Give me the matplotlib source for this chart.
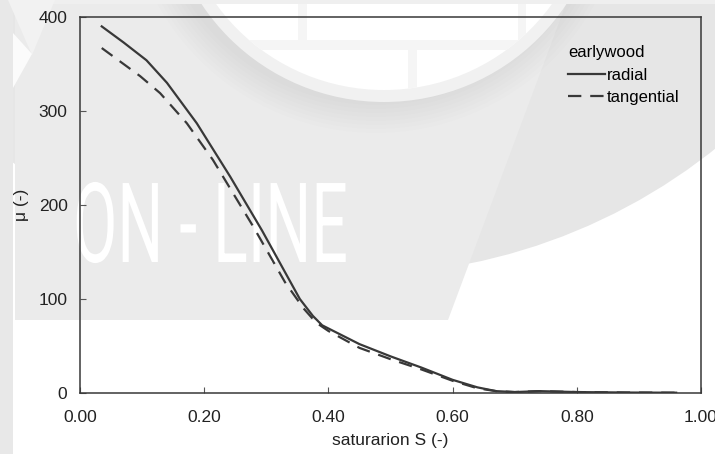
import matplotlib
matplotlib.use("Agg")
import matplotlib.pyplot as plt
from matplotlib.patches import Circle, Polygon, Rectangle
from matplotlib.patheffects import AbstractPathEffect
from matplotlib.transforms import Affine2D

# data
s_radial = [0.035, 0.07, 0.107, 0.14, 0.188, 0.242, 0.293, 0.354, 0.375, 0.39,
            0.42, 0.45, 0.5, 0.55, 0.6, 0.64, 0.67, 0.7, 0.74, 0.8, 0.88, 0.96]
mu_radial = [390, 373, 354, 330, 287, 230, 173, 100, 82, 72,
             62, 52, 39, 27, 14, 6, 2, 1, 2, 1, 0.5, 0.3]

s_tangential = [0.035, 0.097, 0.129, 0.172, 0.214, 0.279, 0.33, 0.36, 0.38, 0.4,
                0.45, 0.5, 0.55, 0.6, 0.64, 0.67, 0.7, 0.74, 0.8, 0.88, 0.96]
mu_tangential = [367, 337, 319, 287, 248, 177, 118, 90, 75, 66,
                 48, 36, 25, 13, 5, 2, 1, 2, 1, 0.5, 0.3]

x_ticks = [0.0, 0.2, 0.4, 0.6, 0.8, 1.0]
y_ticks = [0, 100, 200, 300, 400]

plt.rcParams['font.family'] = ['Liberation Sans', 'DejaVu Sans']

W, H = 715, 454
fig = plt.figure(figsize=(W / 100, H / 100), dpi=100, facecolor='white')


class Squeeze(AbstractPathEffect):
    """narrow the glyphs of a text horizontally around its anchor"""
    def __init__(self, text, sx):
        super().__init__()
        self.text = text
        self.sx = sx

    def draw_path(self, renderer, gc, tpath, affine, rgbFace=None):
        x0, _ = self.text.get_transform().transform(self.text.get_position())
        squash = affine + Affine2D().translate(-x0, 0).scale(self.sx, 1).translate(x0, 0)
        renderer.draw_path(gc, tpath, squash, rgbFace)


# watermark in the background, in pixel coordinates
bg = fig.add_axes([0, 0, 1, 1], zorder=0)
bg.set_xlim(0, W)
bg.set_ylim(H, 0)
bg.axis('off')

bg.add_patch(Circle((355, -302), 577, fc='#e6e6e6', ec='none'))
bg.add_patch(Polygon([(15, 4), (566, 4), (448, 320), (15, 320)], fc='#ebebeb', ec='none'))
for r in range(222, 254, 4):
    bg.add_patch(Circle((376, -117), r, fc='black', ec='none', alpha=0.007))
bg.add_patch(Circle((384, -117), 219, fc='#f1f1f1', ec='none'))
disc = Circle((384, -117), 207, fc='white', ec='none')
bg.add_patch(disc)
for x, y, w, h in [(0, 40, W, 10), (298, 0, 9, 40), (518, 0, 8, 40), (408, 50, 9, 60)]:
    brick = Rectangle((x, y), w, h, fc='#f5f5f5', ec='none')
    bg.add_patch(brick)
    brick.set_clip_path(disc)
bg.add_patch(Rectangle((0, 0), W, 4, fc='#efefef', ec='none'))
bg.add_patch(Rectangle((0, 0), 13, H, fc='#e8e8e8', ec='none'))
bg.add_patch(Polygon([(8, 0), (55, 0), (32, 55)], fc='#f2f2f2', ec='none'))
bg.add_patch(Polygon([(13, 33), (32, 54), (13, 88)], fc='#fbfbfb', ec='none'))

wm = bg.text(73, 262, 'ON - LINE', color='white', fontsize=80,
             family=['Roboto', 'DejaVu Sans'], fontweight='normal',
             ha='left', va='baseline')
wm.set_path_effects([Squeeze(wm, 0.58)])

# the chart itself
ax = fig.add_axes([80 / W, 61 / H, 621 / W, 376 / H], zorder=1)
ax.set_facecolor('none')

line_color = '#383838'
ax.plot(s_radial, mu_radial, color=line_color, lw=1.6, label='radial')
ax.plot(s_tangential, mu_tangential, color=line_color, lw=1.6,
        dashes=(6, 4), label='tangential')

ax.set_xlim(0, 1)
ax.set_ylim(0, 400)
ax.set_xticks(x_ticks)
ax.set_xticklabels([f'{v:.2f}' for v in x_ticks])
ax.set_yticks(y_ticks)

for side in ['left', 'right', 'top', 'bottom']:
    ax.spines[side].set_color('#383838')
    ax.spines[side].set_linewidth(1.1)

ax.tick_params(direction='in', length=4, width=0.8, color='#555555',
               labelsize=12.5, labelcolor='#222222')
ax.tick_params(axis='x', pad=12)
ax.tick_params(axis='y', pad=9)

ax.set_xlabel('saturarion S (-)', fontsize=12.5, color='#222222', labelpad=6)
ax.set_ylabel('μ (-)', fontsize=12.5, color='#222222', labelpad=7)

ax.legend(title='earlywood', loc='upper left', bbox_to_anchor=(0.786, 0.925),
          frameon=False, fontsize=12, title_fontsize=12, alignment='left',
          handlelength=2.2, handletextpad=0.1, labelspacing=0.45,
          borderpad=0, borderaxespad=0)

fig.savefig('out.png', dpi=100, facecolor='white')
